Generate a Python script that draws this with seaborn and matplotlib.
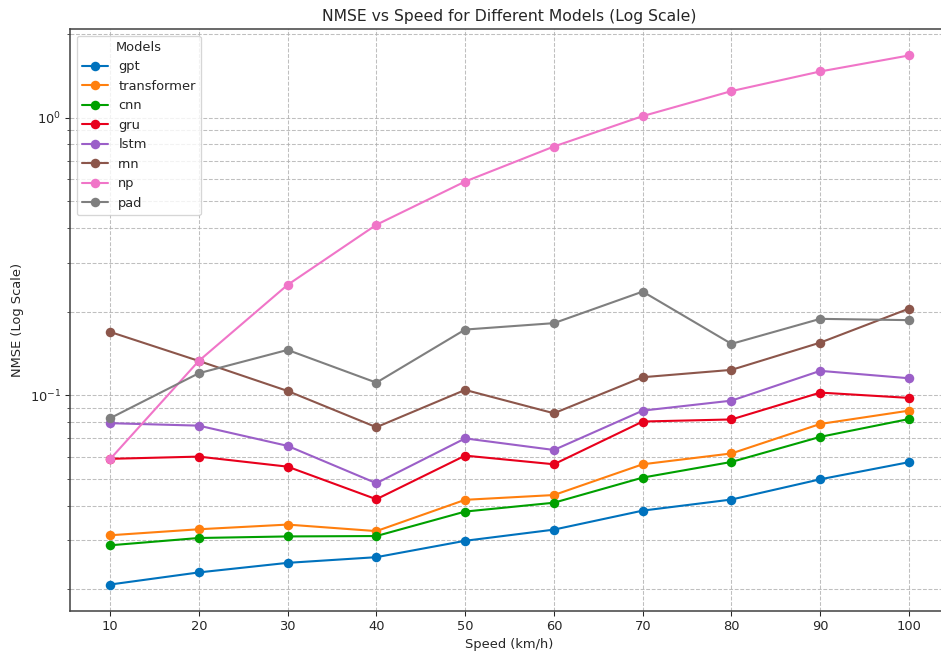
import pandas as pd
import matplotlib
matplotlib.use("Agg")
import matplotlib.pyplot as plt
import seaborn as sns

# --- Data ---
speeds = [10, 20, 30, 40, 50, 60, 70, 80, 90, 100]
models = ["gpt", "transformer", "cnn", "gru", "lstm", "rnn", "np", "pad"]

gpt = [0.0208, 0.0230, 0.0249, 0.0261, 0.0299, 0.0328, 0.0384, 0.0421, 0.0498, 0.0574]
transformer = [0.0313, 0.0329, 0.0342, 0.0324, 0.0420, 0.0437, 0.0564, 0.0617, 0.0788, 0.0880]
cnn = [0.0288, 0.0306, 0.0310, 0.0311, 0.0381, 0.0410, 0.0505, 0.0575, 0.0708, 0.0821]
gru = [0.0590, 0.0601, 0.0553, 0.0422, 0.0606, 0.0564, 0.0804, 0.0818, 0.1022, 0.0978]
lstm = [0.0793, 0.0777, 0.0657, 0.0482, 0.0699, 0.0635, 0.0880, 0.0956, 0.1224, 0.1151]
rnn = [0.1691, 0.1329, 0.1036, 0.0767, 0.1045, 0.0861, 0.1161, 0.1234, 0.1547, 0.2051]
np_vals = [0.0588, 0.1329, 0.2497, 0.4110, 0.5885, 0.7867, 1.0125, 1.2459, 1.4662, 1.6743]
pad = [0.0826, 0.1200, 0.1456, 0.1110, 0.1724, 0.1818, 0.2362, 0.1531, 0.1884, 0.1864]

series = [gpt, transformer, cnn, gru, lstm, rnn, np_vals, pad]
colors = ["#0072bd", "#ff7f0e", "#00a000", "#e8001c",
          "#9b5fc8", "#8c564b", "#f075c8", "#7f7f7f"]

rows = []
for name, vals in zip(models, series):
    for s, v in zip(speeds, vals):
        rows.append({"Speed": s, "NMSE": v, "Model": name})
df = pd.DataFrame(rows)

# --- Figure ---
sns.set_style("ticks")
plt.rcParams["font.family"] = ["DejaVu Sans"]
plt.rcParams["axes.edgecolor"] = "#444444"
plt.rcParams["axes.linewidth"] = 1.2

DPI = 94
fig = plt.figure(figsize=(941 / DPI, 654 / DPI), dpi=DPI)
ax = fig.add_axes([0.07444, 0.06575, 0.93406, 0.88991])

sns.lineplot(
    data=df, x="Speed", y="NMSE", hue="Model", hue_order=models,
    palette=colors, marker="o", markersize=7.3, markeredgewidth=0,
    linewidth=1.6, ax=ax,
)

ax.set_yscale("log")
ax.set_xticks(speeds)
ax.grid(True, which="both", linestyle="--", color="#b0b0b0", alpha=0.8)

ax.set_title("NMSE vs Speed for Different Models (Log Scale)")
ax.set_xlabel("Speed (km/h)")
ax.set_ylabel("NMSE (Log Scale)")
ax.legend(title="Models", loc="upper left")

fig.savefig("out.png", dpi=DPI)
